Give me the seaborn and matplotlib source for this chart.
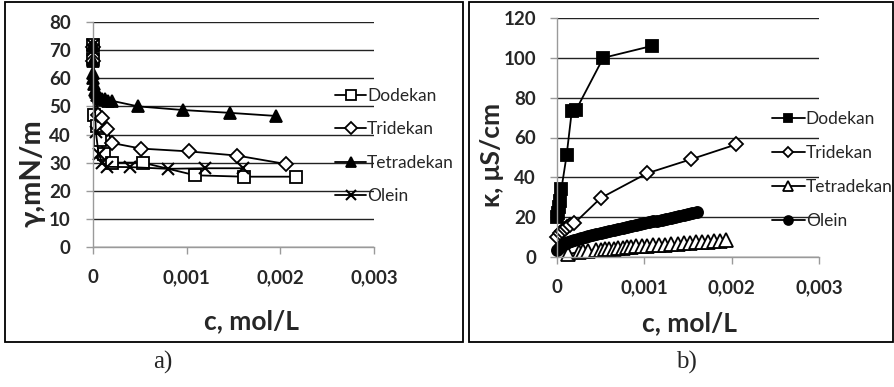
import matplotlib
matplotlib.use("Agg")
import matplotlib.pyplot as plt
import seaborn as sns
from matplotlib.patches import Rectangle

# ---------------- data: panel a) surface tension ----------------
a_dodekan_c = [0, 0, 0.00001, 0.00004, 0.00008, 0.00012, 0.0002, 0.00053, 0.00109, 0.00161, 0.00217]
a_dodekan_g = [72, 67, 47, 43, 38, 33, 30, 30, 25.5, 25, 25]
a_tridekan_c = [0, 0, 0.00005, 0.0001, 0.00015, 0.0002, 0.00051, 0.00102, 0.00154, 0.00206]
a_tridekan_g = [71, 66, 47, 46, 42, 37, 35, 34, 32.5, 29.5]
a_tetradekan_c = [0, 0, 0, 0, 0.00001, 0.00002, 0.00003, 0.00004, 0.00006, 0.00008, 0.0001,
                  0.00013, 0.00016, 0.0002, 0.00048, 0.00096, 0.00146, 0.00195]
a_tetradekan_g = [72, 66, 62, 60, 58, 56, 55, 54, 53.5, 53, 52.5, 52.5, 52, 52, 50, 48.7, 47.7, 46.6]
a_olein_c = [0, 0, 0.00003, 0.00006, 0.0001, 0.00015, 0.0004, 0.0008, 0.0012, 0.0016]
a_olein_g = [72, 70, 41, 33, 30, 28.5, 28.4, 27.8, 28, 28]

# ---------------- data: panel b) conductivity ----------------
b_dodekan_c = [0, 0.00001, 0.00002, 0.00003, 0.00005, 0.00011, 0.00017, 0.00022, 0.00053, 0.00109]
b_dodekan_k = [20, 22, 25, 28, 34, 51, 73.5, 74, 100, 106]
b_tridekan_c = [0, 0.00003, 0.00006, 0.00009, 0.00012, 0.00015, 0.0002, 0.0005, 0.00103, 0.00153, 0.00205]
b_tridekan_k = [10, 12, 13, 14, 15, 16, 17, 29.6, 42, 49, 56.5]
b_tetradekan_c = [0.00013, 0.00025, 0.00030, 0.00035, 0.00045, 0.00050, 0.00055, 0.00060, 0.00065,
                  0.00070, 0.00075, 0.00080, 0.00085, 0.00090, 0.00097, 0.00103, 0.00110, 0.00117,
                  0.00124, 0.00131, 0.00138, 0.00145, 0.00152, 0.00159, 0.00166, 0.00173, 0.00180,
                  0.00187, 0.00194]
b_tetradekan_k = [1.5, 2.5, 2.8, 3.1, 3.4, 3.7, 3.8, 4.1, 4.2, 4.5, 4.6, 4.9, 5.0, 5.3, 5.4, 5.7,
                  5.8, 6.1, 6.2, 6.5, 6.6, 6.9, 7.0, 7.3, 7.4, 7.7, 7.9, 8.1, 8.5]
b_olein_c = [0, 0.00002, 0.00004, 0.00006, 0.00008, 0.0001, 0.00013, 0.00016, 0.0002, 0.00024,
             0.00028, 0.00032, 0.00036, 0.0004, 0.00045, 0.0005, 0.00055, 0.0006, 0.00065, 0.0007,
             0.00075, 0.0008, 0.00085, 0.0009, 0.00095, 0.001, 0.00105, 0.0011, 0.00115, 0.0012,
             0.00125, 0.0013, 0.00135, 0.0014, 0.00145, 0.0015, 0.00155, 0.0016]
b_olein_k = [3.5, 4.5, 5.2, 5.8, 6.3, 6.8, 7.3, 7.8, 8.4, 9.0, 9.5, 10.0, 10.5, 11.0, 11.5, 12.0,
             12.5, 13.0, 13.5, 14.0, 14.5, 15.0, 15.5, 16.0, 16.5, 17.0, 17.4, 17.9, 18.3, 18.8,
             19.2, 19.7, 20.1, 20.6, 21.0, 21.5, 21.9, 22.5]

series_names = ["Dodekan", "Tridekan", "Tetradekan", "Olein"]
x_ticks = [0, 0.001, 0.002, 0.003]
x_ticklabels = ["0", "0,001", "0,002", "0,003"]
a_yticks = [0, 10, 20, 30, 40, 50, 60, 70, 80]
b_yticks = [0, 20, 40, 60, 80, 100, 120]

sns.set_style("white")
plt.rcParams["font.family"] = ["Lato", "DejaVu Sans"]

W, H = 894, 387
fig = plt.figure(figsize=(W / 100, H / 100), dpi=100)


def px_axes(x0, x1, ytop, ybot):
    return fig.add_axes([x0 / W, (H - ybot) / H, (x1 - x0) / W, (ybot - ytop) / H])


def style_axes(ax, ymax, yticks, ypad):
    ax.set_xlim(0, 0.003)
    ax.set_ylim(0, ymax)
    ax.set_xticks(x_ticks)
    ax.set_xticklabels(x_ticklabels)
    ax.set_yticks(yticks)
    ax.set_axisbelow(True)
    ax.grid(axis="y", color="#222222", linewidth=1.0)
    ax.grid(axis="x", visible=False)
    for s in ["top", "right"]:
        ax.spines[s].set_visible(False)
    for s in ["left", "bottom"]:
        ax.spines[s].set_color("#9a9a9a")
        ax.spines[s].set_linewidth(1.0)
    ax.tick_params(axis="x", direction="out", length=5, width=1, color="#9a9a9a",
                   pad=11, labelsize=13.5, bottom=True)
    ax.tick_params(axis="y", direction="out", length=5, width=1, color="#9a9a9a",
                   pad=ypad, labelsize=13.5, left=True)
    for lab in ax.get_xticklabels() + ax.get_yticklabels():
        lab.set_fontweight("bold")
    ax.set_xlabel("")
    ax.set_ylabel("")


def draw(ax, x, y, label, marker, ms, mfc, mew=1.3):
    sns.lineplot(x=x, y=y, ax=ax, label=label, color="black", linewidth=1.3,
                 marker=marker, markersize=ms, markerfacecolor=mfc,
                 markeredgecolor="black", markeredgewidth=mew,
                 estimator=None, sort=False, clip_on=False)


# ---------------- panel a ----------------
ax1 = px_axes(93, 374, 22, 247)
draw(ax1, a_dodekan_c, a_dodekan_g, series_names[0], "s", 9, "white")
draw(ax1, a_tridekan_c, a_tridekan_g, series_names[1], "D", 7, "white")
draw(ax1, a_tetradekan_c, a_tetradekan_g, series_names[2], "^", 9, "black")
draw(ax1, a_olein_c, a_olein_g, series_names[3], "x", 9, "black", mew=1.5)
style_axes(ax1, 80, a_yticks, 11)
ax1.legend(loc="upper left", bbox_to_anchor=(335 / W, (H - 88) / H),
           bbox_transform=fig.transFigure, frameon=False, fontsize=12.5,
           handlelength=1.8, handletextpad=0.05, labelspacing=1.0,
           borderpad=0, borderaxespad=0, markerscale=0.85)

# ---------------- panel b ----------------
ax2 = px_axes(557, 819, 18, 257)
draw(ax2, b_dodekan_c, b_dodekan_k, series_names[0], "s", 8, "black")
draw(ax2, b_tridekan_c, b_tridekan_k, series_names[1], "D", 7, "white")
draw(ax2, b_tetradekan_c, b_tetradekan_k, series_names[2], "^", 9.5, "white")
draw(ax2, b_olein_c, b_olein_k, series_names[3], "o", 8, "black")
style_axes(ax2, 120, b_yticks, 10)
ax2.legend(loc="upper left", bbox_to_anchor=(772 / W, (H - 111) / H),
           bbox_transform=fig.transFigure, frameon=False, fontsize=12.5,
           handlelength=1.9, handletextpad=0.05, labelspacing=1.04,
           borderpad=0, borderaxespad=0, markerscale=0.8)

# ---------------- axis titles ----------------
fig.text(32 / W, (H - 173) / H, "γ,mN/m", rotation=90, ha="center", va="center",
         fontsize=21, fontweight="bold")
fig.text(252 / W, (H - 321) / H, "c, mol/L", ha="center", va="center",
         fontsize=19, fontweight="bold")
fig.text(492 / W, (H - 155) / H, "κ, μS/cm", rotation=90, ha="center", va="center",
         fontsize=19, fontweight="bold")
fig.text(689 / W, (H - 323) / H, "c, mol/L", ha="center", va="center",
         fontsize=19, fontweight="bold")

# ---------------- panel frames ----------------
fig.patches.append(Rectangle((5 / W, (H - 342) / H), (463 - 5) / W, 340 / H,
                             transform=fig.transFigure, fill=False,
                             edgecolor="black", linewidth=1.3))
fig.patches.append(Rectangle((469 / W, (H - 342) / H), (893 - 469) / W, 340 / H,
                             transform=fig.transFigure, fill=False,
                             edgecolor="black", linewidth=1.3))

# ---------------- captions ----------------
fig.text(163 / W, (H - 362) / H, "a)", ha="center", va="center",
         fontsize=18, family=["Liberation Serif", "DejaVu Serif"])
fig.text(686 / W, (H - 362) / H, "b)", ha="center", va="center",
         fontsize=18, family=["Liberation Serif", "DejaVu Serif"])

fig.savefig("out.png", dpi=100)
